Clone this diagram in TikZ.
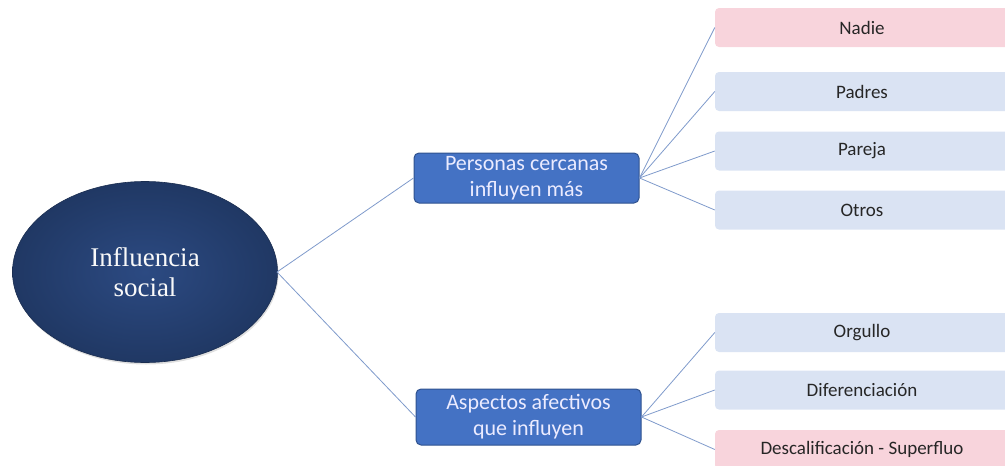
\documentclass[tikz,border=0pt]{standalone}
\usepackage{fontspec}
\setmainfont{Carlito}
\newfontfamily\serifface{Liberation Serif}
\usetikzlibrary{shapes.geometric,shadings,shadows}
\definecolor{navy}{HTML}{203864}
\definecolor{navyin}{HTML}{2C4A82}
\definecolor{midblue}{HTML}{4472C4}
\definecolor{midborder}{HTML}{2F528F}
\definecolor{leafblue}{HTML}{DAE3F3}
\definecolor{leafpink}{HTML}{F8D4DC}
\definecolor{linkcol}{HTML}{7F9ACB}
\definecolor{txtdark}{HTML}{262626}
\tikzset{
  rootnode/.style={ellipse, minimum width=265pt, minimum height=181pt, inner color=navyin, outer color=navy, draw=navy!80!black, line width=0.6pt, text=white!95!gray, font=\serifface\fontsize{27}{30}\selectfont, align=center, drop shadow={shadow xshift=1pt, shadow yshift=-2pt, opacity=0.25}},
  midnode/.style={rectangle, rounded corners=5pt, fill=midblue, draw=midborder, line width=1pt, minimum width=225pt, text=white!92!blue, font=\fontsize{22}{26}\selectfont, align=center, inner sep=0pt},
  leafnode/.style={rectangle, rounded corners=4pt, minimum width=294pt, minimum height=39pt, text=txtdark, font=\fontsize{19}{22}\selectfont, inner sep=0pt},
  link/.style={draw=linkcol, line width=0.8pt}
}
\begin{document}
\begin{tikzpicture}[x=1pt,y=-1pt]
\useasboundingbox (0,0) rectangle (1005,466);
\node[rootnode] (root) at (145,272) {Influencia\\social};
\node[midnode, minimum height=50pt] (m1) at (526.5,178) {Personas cercanas\\influyen más};
\node[midnode, minimum height=56pt] (m2) at (528.5,417) {Aspectos afectivos\\que influyen};
\node[leafnode, fill=leafpink] (l1) at (862,27.5) {Nadie};
\node[leafnode, fill=leafblue] (l2) at (862,91.5) {Padres};
\node[leafnode, fill=leafblue] (l3) at (862,151) {Pareja};
\node[leafnode, fill=leafblue] (l4) at (862,210) {Otros};
\node[leafnode, fill=leafblue] (l5) at (862,332.5) {Orgullo};
\node[leafnode, fill=leafblue] (l6) at (862,390) {Diferenciación};
\node[leafnode, fill=leafpink] (l7) at (862,449.5) {Descalificación - Superfluo};
\coordinate (r0) at (277,272);
\draw[link] (r0) -- (m1.west);
\draw[link] (r0) -- (m2.west);
\foreach \k in {1,2,3,4} {\draw[link] (m1.east) -- (l\k.west);}
\foreach \k in {5,6,7} {\draw[link] (m2.east) -- (l\k.west);}
\end{tikzpicture}
\end{document}
